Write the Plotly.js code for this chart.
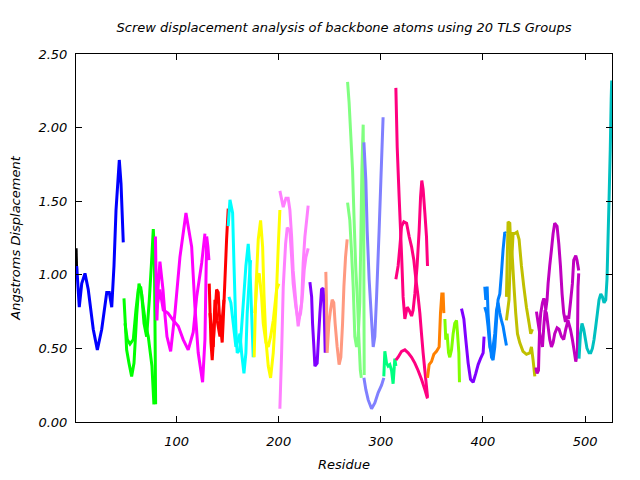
<!DOCTYPE html>
<html>
<head>
<meta charset="utf-8">
<script src="https://cdn.plot.ly/plotly-3.0.1.min.js"></script>
<style>html,body{margin:0;padding:0;background:#fff}#chart{width:640px;height:480px}</style>
</head>
<body>
<div id="chart"></div>
<script>
// ---- data (residue, screw displacement in Angstroms) ----
const xTicks = [100, 200, 300, 400, 500];
const yTicks = [0, 0.5, 1.0, 1.5, 2.0, 2.5];

const blackX = [1.5, 2.0];
const blackY = [1.18, 1.03];

const blueX = [2.1, 4.6, 7.0, 10.2, 13.4, 18.3, 22.3, 26.6, 31.5, 34.0, 36.4, 38.6, 40.6, 43.8, 45.5, 47.7];
const blueY = [1.06, 0.78, 0.94, 1.01, 0.90, 0.63, 0.49, 0.63, 0.88, 0.88, 0.78, 1.06, 1.44, 1.78, 1.62, 1.22];

const greenX1 = [48.4, 49.7, 51.0, 53.3, 55.9, 58.2, 60.8, 63.1, 65.7, 68.0, 70.6, 73.2, 75.5, 77.1, 78.1, 78.7, 79.4];
const greenY1 = [0.84, 0.67, 0.49, 0.40, 0.31, 0.40, 0.72, 0.94, 0.87, 0.67, 0.58, 0.83, 1.10, 1.31, 1.17, 0.72, 0.12];
const greenX2 = [49.4, 51.6, 54.3, 57.5, 60.1, 62.4, 64.7, 67.3, 69.9, 72.2, 73.8, 75.8, 77.7];
const greenY2 = [0.67, 0.56, 0.53, 0.56, 0.76, 0.90, 0.92, 0.78, 0.65, 0.58, 0.49, 0.38, 0.12];

const magentaX1 = [79.2, 80.2, 80.7, 81.7, 83.6, 86.6, 88.5, 90.5, 94.1, 98.3, 103.2, 109.1, 114.7, 117.9, 121.1, 125.4, 127.7, 129.4, 130.6, 131.6];
const magentaY1 = [1.26, 0.83, 0.69, 0.90, 1.09, 0.90, 0.73, 0.58, 0.48, 0.74, 1.12, 1.42, 1.19, 0.78, 0.47, 0.27, 0.56, 1.26, 1.19, 1.10];
const magentaX2 = [80.2, 83.6, 86.9, 91.5, 96.7, 101.6, 106.4, 111.3, 116.2, 119.6, 124.5, 127.7];
const magentaY2 = [0.76, 0.90, 0.76, 0.74, 0.69, 0.65, 0.56, 0.49, 0.61, 0.85, 1.08, 1.28];

const redX1 = [131.9, 133.6, 134.8, 137.0, 139.1, 140.7, 141.7, 143.3, 144.6, 145.6, 147.3, 148.9, 150.5];
const redY1 = [0.94, 0.54, 0.42, 0.67, 0.90, 0.88, 0.74, 0.63, 0.54, 0.69, 0.97, 1.24, 1.45];
const redX2 = [132.6, 135.8, 137.5, 139.7, 142.4, 144.3, 146.3];
const redY2 = [0.74, 0.51, 0.83, 0.69, 0.58, 0.67, 0.83];

const cyanX1 = [150.5, 152.2, 154.8, 156.1, 158.0, 159.3, 162.0, 164.6, 167.8, 170.1, 171.7, 173.4, 175.0];
const cyanY1 = [1.33, 1.51, 1.42, 1.08, 0.63, 0.47, 0.49, 0.74, 1.06, 1.21, 1.06, 0.74, 0.44];
const cyanX2 = [151.2, 153.1, 155.4, 158.0, 160.3, 162.0, 163.6, 165.9, 167.8, 169.1, 171.1, 172.4];
const cyanY2 = [0.85, 0.81, 0.67, 0.51, 0.56, 0.60, 0.47, 0.33, 0.47, 0.74, 0.97, 1.10];

const yellowX1 = [175.9, 177.6, 179.9, 182.2, 184.2, 185.5, 187.4, 189.7, 192.0, 194.6, 197.2, 199.5, 201.1];
const yellowY1 = [0.44, 0.90, 1.24, 1.37, 1.19, 0.87, 0.56, 0.38, 0.30, 0.47, 0.78, 1.19, 1.44];
const yellowX2 = [176.6, 178.9, 180.9, 183.2, 184.8, 187.4, 189.7, 192.0, 194.6, 197.9, 200.1];
const yellowY2 = [0.74, 0.97, 1.01, 0.85, 0.67, 0.54, 0.51, 0.58, 0.69, 0.90, 0.94];

const pinkX1 = [201.1, 204.4, 207.0, 209.2, 210.9, 212.6, 214.1, 216.8, 219.0, 222.4, 223.9, 225.6, 227.3, 228.8];
const pinkY1 = [1.57, 1.46, 1.52, 1.52, 1.44, 1.26, 1.03, 0.81, 0.65, 0.81, 1.08, 1.26, 1.37, 1.47];
const pinkX2 = [201.1, 202.8, 204.4, 206.7, 208.3, 210.9, 212.6, 214.1, 216.8, 219.0, 221.4, 223.3, 224.9, 226.6, 228.8];
const pinkY2 = [0.09, 0.47, 0.92, 1.21, 1.32, 1.30, 1.12, 0.94, 0.78, 0.69, 0.74, 0.87, 1.03, 1.12, 1.18];

const purpleX = [230.5, 232.2, 233.1, 234.4, 235.4, 237.6, 239.0, 240.3, 241.9, 243.5, 244.5, 245.5];
const purpleY = [0.95, 0.85, 0.67, 0.51, 0.38, 0.40, 0.58, 0.74, 0.90, 0.91, 0.76, 0.47];

const salmonX = [246.1, 246.8, 247.4, 249.1, 250.7, 252.3, 253.9, 255.2, 257.2, 259.1, 260.8, 262.5, 263.8, 265.4, 267.0];
const salmonY = [1.02, 0.81, 0.47, 0.67, 0.76, 0.83, 0.81, 0.67, 0.51, 0.39, 0.44, 0.67, 0.92, 1.12, 1.24];

const lgreenX1 = [267.4, 268.9, 270.6, 272.3, 273.8, 275.5, 277.2, 278.4, 279.9, 280.9];
const lgreenY1 = [2.31, 2.17, 1.94, 1.71, 1.37, 1.03, 0.81, 0.58, 0.35, 0.30];
const lgreenX2 = [267.4, 269.6, 271.3, 272.9, 274.5, 276.2, 277.8, 279.4, 280.4, 281.4, 282.7, 283.2, 283.4, 283.7];
const lgreenY2 = [1.49, 1.37, 1.15, 0.92, 0.58, 0.51, 0.58, 0.81, 1.26, 1.71, 2.02, 1.51, 0.90, 0.32];

const periX1 = [283.4, 285.3, 286.6, 288.5, 290.9, 292.5, 294.1, 295.8, 298.3, 300.0, 302.2];
const periY1 = [1.90, 1.64, 1.30, 0.97, 0.69, 0.51, 0.58, 0.85, 1.30, 1.64, 2.07];
const periX2 = [283.4, 285.3, 287.6, 290.9, 294.1, 297.4, 300.7, 302.9];
const periY2 = [0.30, 0.22, 0.15, 0.09, 0.13, 0.20, 0.25, 0.30];

const springX = [302.9, 303.9, 305.6, 307.1, 308.8, 310.5, 312.0, 313.7, 314.7];
const springY = [0.31, 0.48, 0.40, 0.38, 0.39, 0.35, 0.26, 0.43, 0.38];

const dpinkX1 = [314.7, 316.0, 317.9, 319.3, 320.6, 321.8, 323.5, 325.8, 327.7, 330.1, 331.6, 333.3, 335.5, 337.5, 338.9, 340.1, 341.4, 343.1, 344.7, 345.7];
const dpinkY1 = [2.27, 1.87, 1.53, 1.30, 1.08, 0.85, 0.70, 0.78, 0.76, 0.72, 0.76, 0.87, 1.06, 1.30, 1.53, 1.64, 1.58, 1.42, 1.26, 1.06];
const dpinkX2 = [314.7, 316.9, 318.6, 320.3, 322.5, 325.2, 327.7, 330.1, 332.3, 334.3, 336.5, 338.2, 339.8, 341.4, 343.1, 344.7, 345.7];
const dpinkY2 = [0.97, 1.06, 1.19, 1.33, 1.36, 1.35, 1.26, 1.19, 1.10, 0.97, 0.85, 0.74, 0.60, 0.47, 0.35, 0.24, 0.17];
const dpinkX3 = [314.7, 316.9, 320.3, 323.5, 326.7, 330.1, 333.3, 336.5, 339.8, 343.1, 345.7];
const dpinkY3 = [0.42, 0.44, 0.48, 0.49, 0.47, 0.44, 0.40, 0.35, 0.29, 0.22, 0.16];

const orangeX = [345.7, 347.3, 349.6, 351.9, 354.5, 357.1, 358.4, 359.7, 361.0, 361.7];
const orangeY = [0.30, 0.39, 0.41, 0.46, 0.48, 0.51, 0.74, 0.87, 0.87, 0.74];

const chartX = [362.7, 363.6, 364.9, 366.3, 367.5, 369.2, 370.8, 372.4, 374.1, 375.1, 376.4, 377.0];
const chartY = [0.70, 0.56, 0.60, 0.47, 0.44, 0.49, 0.60, 0.67, 0.69, 0.60, 0.47, 0.27];

const violetX = [379.0, 381.3, 383.2, 385.5, 387.8, 390.4, 393.0, 395.3, 397.6, 400.2, 401.1];
const violetY = [0.77, 0.70, 0.56, 0.40, 0.29, 0.27, 0.33, 0.39, 0.43, 0.47, 0.58];

const azureX1 = [401.8, 402.8, 404.1, 405.0, 406.7, 408.4, 409.9, 411.6, 413.3, 414.8, 416.5, 418.1, 419.7, 421.4, 422.4];
const azureY1 = [0.92, 0.83, 0.92, 0.74, 0.56, 0.44, 0.42, 0.51, 0.69, 0.83, 0.87, 1.01, 1.17, 1.29, 1.28];
const azureX2 = [401.8, 403.5, 405.0, 406.7, 408.4, 409.9, 411.6, 413.3, 414.8, 416.5, 418.1, 419.7, 421.4, 423.0];
const azureY2 = [0.78, 0.74, 0.65, 0.51, 0.47, 0.51, 0.60, 0.76, 0.81, 0.74, 0.69, 0.65, 0.58, 0.52];

const oliveX1 = [423.0, 424.6, 426.3, 427.9, 429.5, 431.2, 433.4, 435.4, 437.7, 440.0, 442.6, 445.2, 446.8, 448.5];
const oliveY1 = [0.85, 1.36, 1.35, 1.06, 1.28, 1.28, 1.29, 1.24, 1.06, 0.92, 0.78, 0.67, 0.60, 0.63];
const oliveX2 = [423.0, 425.5, 427.2, 428.9, 430.4, 432.1, 433.8, 436.0, 439.2, 442.6, 445.9, 447.5, 449.1, 450.8];
const oliveY2 = [0.69, 0.83, 1.21, 1.10, 0.92, 0.74, 0.60, 0.54, 0.48, 0.46, 0.47, 0.51, 0.42, 0.31];

const dmagX1 = [451.7, 453.0, 454.4, 454.9, 455.6, 456.6, 458.3, 459.6, 460.9, 461.5, 462.8, 463.8, 465.4, 467.1, 468.7, 470.3, 472.6, 474.3, 475.9, 477.5, 479.1, 480.8, 482.4, 484.0, 485.7, 487.6, 488.9, 490.9, 492.1, 493.8];
const dmagY1 = [0.37, 0.33, 0.35, 0.49, 0.65, 0.74, 0.81, 0.84, 0.81, 0.76, 0.83, 0.94, 1.06, 1.17, 1.28, 1.35, 1.33, 1.21, 1.06, 0.87, 0.74, 0.68, 0.72, 0.70, 0.81, 0.94, 1.10, 1.13, 1.10, 1.03];
const dmagX2 = [452.4, 453.7, 455.0, 456.6, 458.3, 459.6, 460.9, 462.2, 463.8, 465.4, 467.1, 468.7, 470.3, 472.6, 474.5, 476.9, 479.1, 481.1, 483.3, 485.7, 487.6, 489.2, 490.9, 492.5, 493.1, 493.8];
const dmagY2 = [0.75, 0.69, 0.63, 0.56, 0.51, 0.65, 0.76, 0.74, 0.65, 0.56, 0.51, 0.54, 0.60, 0.64, 0.63, 0.58, 0.56, 0.63, 0.69, 0.63, 0.56, 0.49, 0.41, 0.47, 0.92, 1.01];

const tealX = [494.1, 495.5, 497.0, 498.7, 500.4, 501.9, 503.9, 505.6, 507.2, 508.8, 510.5, 512.1, 513.7, 515.4, 517.0, 518.6, 520.3, 521.5, 522.5, 523.5, 524.7, 525.6, 526.1];
const tealY = [0.43, 0.60, 0.67, 0.63, 0.56, 0.50, 0.47, 0.47, 0.50, 0.56, 0.65, 0.74, 0.83, 0.87, 0.85, 0.81, 0.83, 0.97, 1.24, 1.51, 1.85, 2.19, 2.32];

// ---- traces ----
const series = [
  [blackX, blackY, '#000000'],
  [blueX, blueY, '#0000ff'],
  [greenX1, greenY1, '#00ff00'], [greenX2, greenY2, '#00ff00'],
  [magentaX1, magentaY1, '#ff00ff'], [magentaX2, magentaY2, '#ff00ff'],
  [redX1, redY1, '#ff0000'], [redX2, redY2, '#ff0000'],
  [cyanX1, cyanY1, '#00ffff'], [cyanX2, cyanY2, '#00ffff'],
  [yellowX1, yellowY1, '#ffff00'], [yellowX2, yellowY2, '#ffff00'],
  [pinkX1, pinkY1, '#ff80ff'], [pinkX2, pinkY2, '#ff80ff'],
  [purpleX, purpleY, '#8000ff'],
  [salmonX, salmonY, '#ff9980'],
  [lgreenX1, lgreenY1, '#80ff80'], [lgreenX2, lgreenY2, '#80ff80'],
  [periX1, periY1, '#8080ff'], [periX2, periY2, '#8080ff'],
  [springX, springY, '#00ff80'],
  [dpinkX1, dpinkY1, '#ff0080'], [dpinkX2, dpinkY2, '#ff0080'], [dpinkX3, dpinkY3, '#ff0080'],
  [orangeX, orangeY, '#ff8000'],
  [chartX, chartY, '#80ff00'],
  [violetX, violetY, '#8000ff'],
  [azureX1, azureY1, '#0080ff'], [azureX2, azureY2, '#0080ff'],
  [oliveX1, oliveY1, '#c0c000'], [oliveX2, oliveY2, '#c0c000'],
  [dmagX1, dmagY1, '#c000c0'], [dmagX2, dmagY2, '#c000c0'],
  [tealX, tealY, '#00c0c0']
];

const data = series.map(s => ({
  x: s[0], y: s[1], type: 'scatter', mode: 'lines',
  line: {color: s[2], width: 3, simplify: false},
  showlegend: false, hoverinfo: 'skip', cliponaxis: true
}));

const fontBase = {family: 'DejaVu Sans, sans-serif', size: 13, color: '#000', style: 'italic'};

const layout = {
  width: 640, height: 480,
  margin: {l: 76, r: 28, t: 54, b: 58, autoexpand: false},
  paper_bgcolor: '#fff', plot_bgcolor: '#fff',
  title: {text: 'Screw displacement analysis of backbone atoms using 20 TLS Groups',
          font: fontBase, xref: 'paper', x: 0.5, xanchor: 'center',
          yref: 'container', y: 1 - 27/480, yanchor: 'middle'},
  xaxis: {
    range: [1.4, 526.4], tickvals: xTicks, ticktext: xTicks.map(String),
    ticks: 'inside', ticklen: 6, tickcolor: '#000', tickwidth: 1,
    showline: true, linecolor: '#000', linewidth: 1, mirror: 'ticks',
    showgrid: false, zeroline: false, tickfont: fontBase, ticklabelstandoff: 7,
    title: {text: 'Residue', font: fontBase, standoff: 12}
  },
  yaxis: {
    range: [0, 2.5], tickvals: yTicks, ticktext: yTicks.map(v => v.toFixed(2)),
    ticks: 'inside', ticklen: 6, tickcolor: '#000', tickwidth: 1,
    showline: true, linecolor: '#000', linewidth: 1, mirror: 'ticks',
    showgrid: false, zeroline: false, tickfont: fontBase, ticklabelstandoff: 5,
    title: {text: 'Angstroms Displacement', font: fontBase, standoff: 14}
  }
};

Plotly.newPlot('chart', data, layout, {staticPlot: true, displayModeBar: false});
</script>
</body>
</html>
